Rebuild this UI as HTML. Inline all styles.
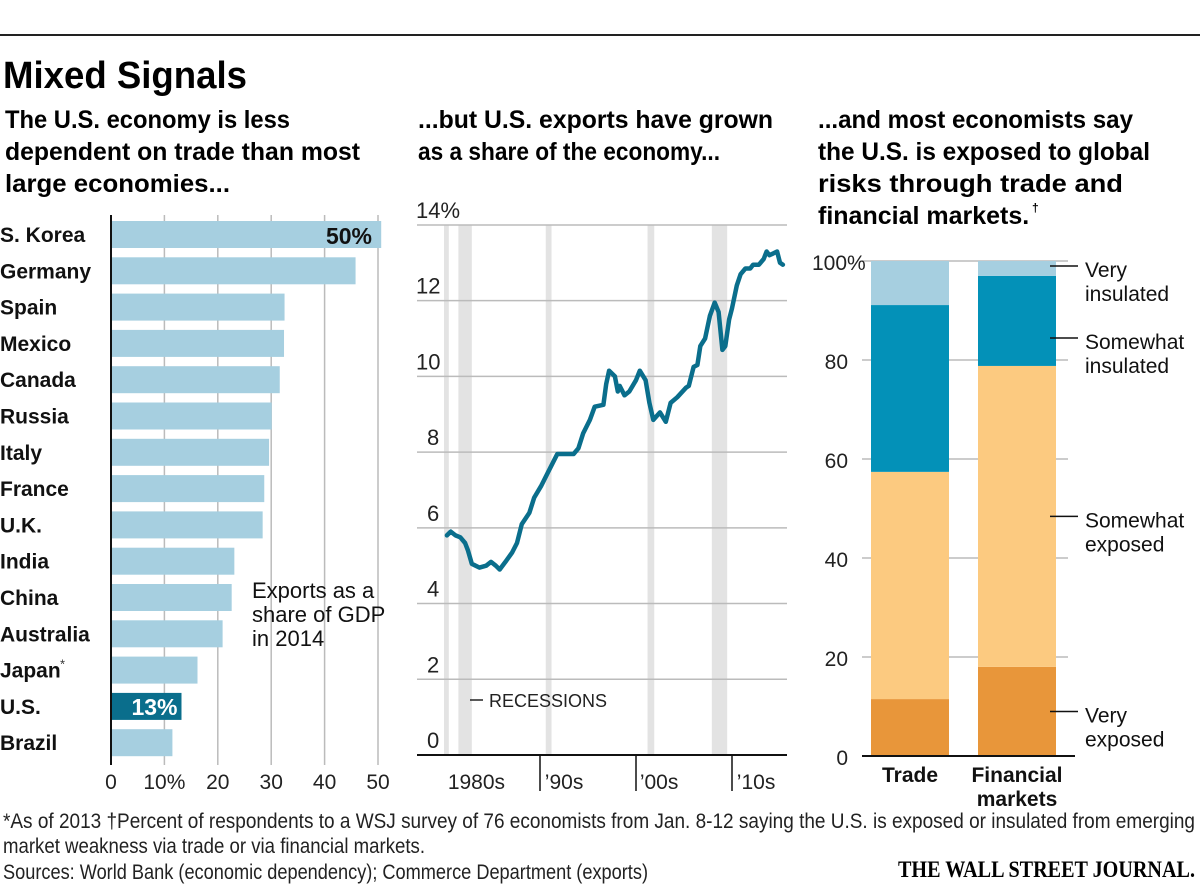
<!DOCTYPE html>
<html><head><meta charset="utf-8"><style>
html,body{margin:0;padding:0;background:#fff;}
svg{display:block;font-family:"Liberation Sans",sans-serif;}
</style></head><body>
<svg id="chart" width="1200" height="889" viewBox="0 0 1200 889" xmlns="http://www.w3.org/2000/svg">
<rect x="0" y="34" width="1200" height="2" fill="#222"/>
<text x="3" y="88" font-size="38" font-weight="bold" textLength="244" lengthAdjust="spacingAndGlyphs">Mixed Signals</text>
<g font-size="25" font-weight="bold">
<text x="5" y="128" textLength="285" lengthAdjust="spacingAndGlyphs">The U.S. economy is less</text>
<text x="5" y="160" textLength="355" lengthAdjust="spacingAndGlyphs">dependent on trade than most</text>
<text x="5" y="192" textLength="225" lengthAdjust="spacingAndGlyphs">large economies...</text>
<text x="418" y="128" textLength="355" lengthAdjust="spacingAndGlyphs">...but U.S. exports have grown</text>
<text x="418" y="160" textLength="302" lengthAdjust="spacingAndGlyphs">as a share of the economy...</text>
<text x="818" y="128" textLength="315" lengthAdjust="spacingAndGlyphs">...and most economists say</text>
<text x="818" y="160" textLength="332" lengthAdjust="spacingAndGlyphs">the U.S. is exposed to global</text>
<text x="818" y="192" textLength="305" lengthAdjust="spacingAndGlyphs">risks through trade and</text>
<text x="818" y="224">financial markets.</text>
<text x="1032" y="212" font-size="12">†</text>
</g>
<g id="bars"></g>
<g id="line"></g>
<g id="stack"></g>
<g font-size="21" fill="#222">
<text x="3" y="828" textLength="1192" lengthAdjust="spacingAndGlyphs">*As of 2013   †Percent of respondents to a WSJ survey of 76 economists from Jan. 8-12 saying the U.S. is exposed or insulated from emerging</text>
<text x="3" y="853" textLength="422" lengthAdjust="spacingAndGlyphs">market weakness via trade or via financial markets.</text>
<text x="3" y="879" textLength="645" lengthAdjust="spacingAndGlyphs">Sources: World Bank (economic dependency); Commerce Department (exports)</text>
</g>
<text x="898" y="877" font-family="Liberation Serif,serif" font-size="23" font-weight="bold" textLength="297" lengthAdjust="spacingAndGlyphs">THE WALL STREET JOURNAL.</text>
</svg>
<script>
const NS='http://www.w3.org/2000/svg';
// ---- bar chart data
const countries=['S. Korea','Germany','Spain','Mexico','Canada','Russia','Italy','France','U.K.','India','China','Australia','Japan*','U.S.','Brazil'];
const exportShare=[50.6,45.8,32.5,32.4,31.6,30.1,29.6,28.7,28.4,23.1,22.6,20.9,16.2,13.2,11.5];
const barTicks=[0,10,20,30,40,50];
const barTickLabels=['0','10%','20','30','40','50'];
const highlightLabels=['50%','13%'];
// ---- line chart data
const lineYears=[1980.3,1980.7,1981.2,1981.7,1982.2,1982.5,1982.9,1983.7,1984.4,1984.9,1985.4,1985.8,1986.4,1987.1,1987.6,1988.1,1988.9,1989.4,1990.1,1990.9,1991.8,1992.5,1993.5,1994.0,1994.5,1995.2,1995.7,1996.6,1996.9,1997.2,1997.8,1998.1,1998.3,1998.8,1999.3,2000.0,2000.4,2001.0,2001.4,2001.8,2002.5,2003.1,2003.6,2004.3,2005.2,2005.5,2006.0,2006.4,2006.7,2007.2,2007.7,2008.2,2008.6,2009.0,2009.3,2009.7,2010.0,2010.5,2010.9,2011.4,2011.9,2012.2,2012.8,2013.3,2013.6,2013.9,2014.3,2014.7,2015.0,2015.3];
const exportPct=[5.8,5.9,5.8,5.75,5.6,5.4,5.05,4.95,5.0,5.1,5.0,4.9,5.1,5.35,5.6,6.1,6.4,6.8,7.1,7.5,7.95,7.95,7.95,8.1,8.5,8.85,9.2,9.25,9.8,10.15,10.0,9.6,9.75,9.5,9.6,9.9,10.15,9.9,9.3,8.85,9.05,8.8,9.3,9.45,9.7,9.75,10.25,10.3,10.8,11.0,11.6,11.95,11.7,10.7,10.8,11.5,11.8,12.4,12.7,12.85,12.85,12.95,12.95,13.1,13.3,13.2,13.25,13.3,13.0,12.95];
const recessionStart=[1980.0,1981.5,1990.6,2001.2,2007.9];
const recessionEnd=[1980.5,1982.9,1991.2,2001.9,2009.5];
const lineTicks=[0,2,4,6,8,10,12,14];
const lineTickLabels=['0','2','4','6','8','10','12','14%'];
const decadeYears=[1990,2000,2010];
const decadeLabels=['1980s','’90s','’00s','’10s'];
const decadeLabelYears=[1980.4,1990.5,2000.4,2010.5];
// ---- stacked chart data
const stackCats=['Trade','Financial markets'];
const segNames=['Very exposed','Somewhat exposed','Somewhat insulated','Very insulated'];
const veryExposed=[11.5,18];
const somewhatExposed=[45.9,60.8];
const somewhatInsulated=[33.7,18.2];
const veryInsulated=[8.9,3];
const stackTicks=[0,20,40,60,80,100];
const stackTickLabels=['0','20','40','60','80','100%'];

function mk(parent,tag,attrs,text){const e=document.createElementNS(NS,tag);for(const k in attrs)e.setAttribute(k,attrs[k]);if(text!=null)e.textContent=text;parent.appendChild(e);return e;}

// ===== Bar chart
(function(){
const g=document.getElementById('bars');
const x=v=>111+v*5.34;
const rowY=i=>221+i*36.3;
const bh=27;
barTicks.forEach((t,i)=>{
 if(t>0){const l=mk(g,'line',{x1:x(t),x2:x(t),y1:215,y2:765,stroke:'#bbb','stroke-width':1.5});
 
 }
 const tx=mk(g,'text',{x:x(t),y:789,'font-size':21,'text-anchor':'middle',fill:'#222'},barTickLabels[i]);
 
 
});
countries.forEach((c,i)=>{
 const us=c==='U.S.';
 const r=mk(g,'rect',{x:x(0),y:rowY(i),width:x(exportShare[i])-x(0),height:bh,fill:us?'#0a6e8c':'#a6cfe0'});
 
 
 const lab=c.replace('*','');
 const t=mk(g,'text',{x:0,y:rowY(i)+21,'font-size':21,'font-weight':us?'bold':'600',fill:'#111'},lab);
 
 
 if(c.indexOf('*')>=0){mk(g,'text',{x:60,y:rowY(i)+12,'font-size':13,fill:'#333'},'*');}
});
mk(g,'line',{x1:111,x2:111,y1:215,y2:765,stroke:'#111','stroke-width':2});
const v1=mk(g,'text',{x:372,y:rowY(0)+23,'font-size':23,'font-weight':'bold','text-anchor':'end',fill:'#111'},highlightLabels[0]);


const v2=mk(g,'text',{x:x(exportShare[13])-4,y:rowY(13)+22,'font-size':23,'font-weight':'bold','text-anchor':'end',fill:'#fff'},highlightLabels[1]);


['Exports as a','share of GDP','in 2014'].forEach((s,i)=>{
 const t=mk(g,'text',{x:252,y:598+i*24,'font-size':22,fill:'#111'},s);
 
 
});
})();

// ===== Line chart
(function(){
const g=document.getElementById('line');
const x=yr=>444+(yr-1980)*9.6;
const y=v=>755-v*37.86;
recessionStart.forEach((s,i)=>{
 const r=mk(g,'rect',{x:x(s),y:y(14),width:x(recessionEnd[i])-x(s),height:y(0)-y(14),fill:'#e3e3e3'});
 
 
});
lineTicks.forEach((t,i)=>{
 if(t>0){const l=mk(g,'line',{x1:417,x2:787,y1:y(t),y2:y(t),stroke:'#bbb','stroke-width':1.5});
 
 }
 const tx=mk(g,'text',{x:t>=10?416:427,y:y(t)-7,'font-size':22,fill:'#222'},lineTickLabels[i]);
 
 
});
mk(g,'line',{x1:417,x2:787,y1:y(0),y2:y(0),stroke:'#111','stroke-width':2});
decadeYears.forEach(d=>{mk(g,'line',{x1:x(d),x2:x(d),y1:y(0),y2:y(0)+36,stroke:'#111','stroke-width':1.5});});
decadeLabels.forEach((s,i)=>{
 const t=mk(g,'text',{x:x(decadeLabelYears[i]),y:789,'font-size':21,fill:'#222'},s);
 
 
});
const d=lineYears.map((yr,i)=>(i?'L':'M')+x(yr).toFixed(1)+' '+y(exportPct[i]).toFixed(1)).join(' ');
const p=mk(g,'path',{d:d,fill:'none',stroke:'#0a6e8c','stroke-width':4.5,'stroke-linejoin':'round','stroke-linecap':'round'});


mk(g,'line',{x1:470,x2:483,y1:700,y2:700,stroke:'#222','stroke-width':1.5});
const rl=mk(g,'text',{x:489,y:707,'font-size':18,fill:'#222'},'RECESSIONS');


})();

// ===== Stacked chart
(function(){
const g=document.getElementById('stack');
const y=v=>756-v*4.95;
const bx=[871,978], bw=78;
stackTicks.forEach((t,i)=>{
 if(t>0){const l=mk(g,'line',{x1:862,x2:1068,y1:y(t),y2:y(t),stroke:'#bbb','stroke-width':1.5});
 
 }
 const tx=t===100?mk(g,'text',{x:812,y:y(t)+9,'font-size':21,fill:'#222'},stackTickLabels[i]):mk(g,'text',{x:848,y:y(t)+9,'font-size':21,'text-anchor':'end',fill:'#222'},stackTickLabels[i]);
 
 
});
const series=[veryExposed,somewhatExposed,somewhatInsulated,veryInsulated];
const colors=['#e8963a','#fcca80','#0391b8','#a6cfe0'];
stackCats.forEach((c,ci)=>{
 let base=0;
 series.forEach((s,si)=>{
  const r=mk(g,'rect',{x:bx[ci],y:y(base+s[ci]),width:bw,height:y(base)-y(base+s[ci]),fill:colors[si]});
  
  
  base+=s[ci];
 });
});
mk(g,'line',{x1:862,x2:1075,y1:756,y2:756,stroke:'#111','stroke-width':2});
const t1=mk(g,'text',{x:910,y:782,'font-size':21,'font-weight':'bold','text-anchor':'middle',fill:'#111'},'Trade');


const t2=mk(g,'text',{x:1017,y:782,'font-size':21,'font-weight':'bold','text-anchor':'middle',fill:'#111'},'Financial');


mk(g,'text',{x:1017,y:806,'font-size':21,'font-weight':'bold','text-anchor':'middle',fill:'#111'},'markets');
const lbl=[['Very','exposed'],['Somewhat','exposed'],['Somewhat','insulated'],['Very','insulated']];
let base=0;
const ly=[];
series.forEach((s,si)=>{ly.push(base+s[1]/2);base+=s[1];});
ly.forEach((v,si)=>{
 const yy=si===2?338:si===3?266:y(v);
 mk(g,'line',{x1:1050,x2:1078,y1:yy,y2:yy,stroke:'#111','stroke-width':1.5});
 const a=mk(g,'text',{x:1085,y:yy+11,'font-size':21,fill:'#111'},lbl[si][0]);
 
 
 mk(g,'text',{x:1085,y:yy+35,'font-size':21,fill:'#111'},lbl[si][1]);
});
})();
</script>
</body></html>
